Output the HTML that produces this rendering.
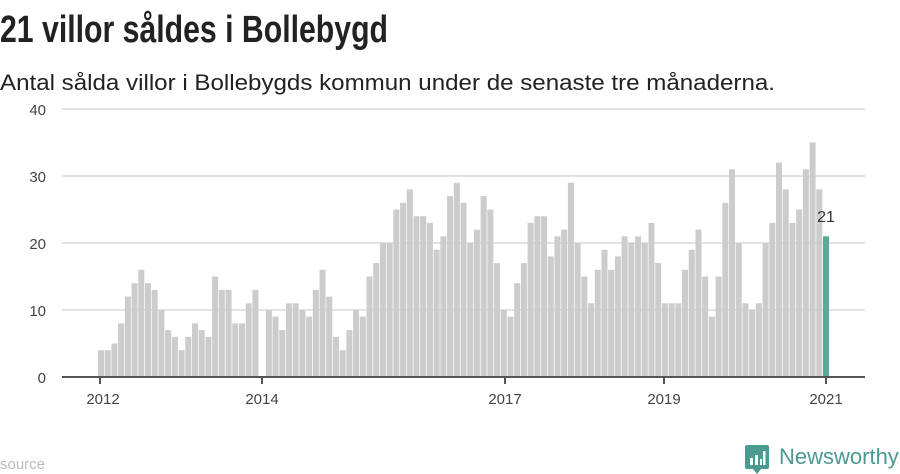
<!DOCTYPE html>
<html><head><meta charset="utf-8"><style>
html,body{margin:0;padding:0;background:#fff;width:900px;height:474px;overflow:hidden}
svg{display:block;font-family:"Liberation Sans",sans-serif}
</style></head><body>
<svg id="s" width="900" height="474" viewBox="0 0 900 474" xmlns="http://www.w3.org/2000/svg">
<text x="0" y="42" font-size="38" font-weight="bold" fill="#222" textLength="388" lengthAdjust="spacingAndGlyphs">21 villor såldes i Bollebygd</text>
<text x="0" y="90" font-size="22" fill="#222" textLength="775" lengthAdjust="spacingAndGlyphs">Antal sålda villor i Bollebygds kommun under de senaste tre månaderna.</text>
<g stroke="#e3e3e3" stroke-width="2">
<line x1="62" x2="865" y1="109" y2="109"/><line x1="62" x2="865" y1="176" y2="176"/>
<line x1="62" x2="865" y1="243" y2="243"/><line x1="62" x2="865" y1="310" y2="310"/>
</g>
<g font-size="15" fill="#444" text-anchor="end">
<text x="46" y="115">40</text><text x="46" y="182">30</text><text x="46" y="249">20</text><text x="46" y="316">10</text><text x="46" y="383">0</text>
</g>
<g id="bars"></g>
<line x1="62" x2="865" y1="377" y2="377" stroke="#555" stroke-width="2"/>
<g stroke="#555" stroke-width="2">
<line x1="100" x2="100" y1="377" y2="384"/><line x1="262" x2="262" y1="377" y2="384"/>
<line x1="505" x2="505" y1="377" y2="384"/><line x1="664" x2="664" y1="377" y2="384"/>
<line x1="826" x2="826" y1="377" y2="384"/>
</g>
<g font-size="15" fill="#444" text-anchor="middle">
<text x="103" y="404">2012</text><text x="262" y="404">2014</text><text x="505" y="404">2017</text><text x="664" y="404">2019</text><text x="826" y="404">2021</text>
</g>
<text x="826" y="222" font-size="16" fill="#333" text-anchor="middle">21</text>
<text x="0" y="469" font-size="15" fill="#bbb">source</text>
<g transform="translate(745,445)">
<path d="M0,2 q0,-2 2,-2 h20 q2,0 2,2 v20 q0,2 -2,2 h-6 l-4,5 l-4,-5 h-6 q-2,0 -2,-2z" fill="#4a9a90"/>
<rect x="5" y="13" width="3" height="7" fill="#fff"/><rect x="10" y="10" width="3" height="10" fill="#fff"/><rect x="15" y="14" width="2" height="6" fill="#fff"/><rect x="18" y="6" width="2.5" height="14" fill="#fff"/>
</g>
<text x="779" y="464" font-size="22" fill="#4a9a90">Newsworthy</text>
</svg>
<script>
var v=[4,4,5,8,12,14,16,14,13,10,7,6,4,6,8,7,6,15,13,13,8,8,11,13,
0,10,9,7,11,11,10,9,13,16,12,6,
4,7,10,9,15,17,20,20,25,26,28,24,
24,23,19,21,27,29,26,20,22,27,25,17,
10,9,14,17,23,24,24,18,21,22,29,20,
15,11,16,19,16,18,21,20,21,20,23,17,
11,11,11,16,19,22,15,9,15,26,31,20,
11,10,11,20,23,32,28,23,25,31,35,28,21];
var g=document.getElementById('bars'),h='';
for(var i=0;i<v.length;i++){var cx=101+i*6.713,ht=v[i]*6.7;
h+='<rect x="'+(cx-3).toFixed(2)+'" y="'+(377-ht).toFixed(2)+'" width="6" height="'+ht.toFixed(2)+'" fill="'+(i==v.length-1?'#5aa89a':'#cccccc')+'"/>';}
g.innerHTML=h;
</script>
</body></html>
